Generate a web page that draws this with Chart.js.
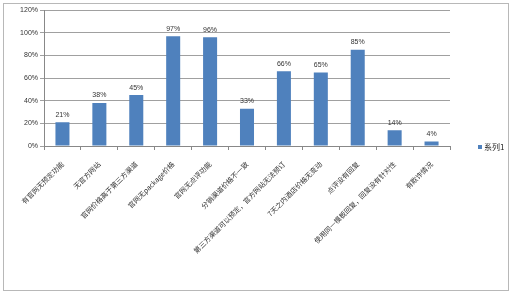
<!DOCTYPE html>
<html>
<head>
<meta charset="utf-8">
<script src="https://cdn.jsdelivr.net/npm/chart.js@4.4.1/dist/chart.umd.min.js"></script>
<style>
  body { margin: 0; background: #fff; }
  #box { position: absolute; left: 3px; top: 3px; width: 504px; height: 286px; border: 1px solid #b8b8b8; }
  canvas { position: absolute; left: 0; top: 0; }
</style>
</head>
<body>
<div id="box"><canvas id="myChart" width="504" height="286"></canvas></div>
<script>
// categorías y valores (%)
const categorias = [
  '有官网无预定功能',
  '无官方网站',
  '官网价格高于第三方渠道',
  '官网无package价格',
  '官网无点评功能',
  '分销渠道价格不一致',
  '第三方渠道可以预定，官方网站无法预订',
  '7天之内酒店价格无变动',
  '点评没有回复',
  '使用同一模板回复，回复没有针对性',
  '有欺诈情况'
];
const valores = [21, 38, 45, 97, 96, 33, 66, 65, 85, 14, 4];
const serie = '系列1';
const ticksY = [0, 20, 40, 60, 80, 100, 120];
const colorSerie = '#4F81BD';

// etiquetas encima de cada barra + leyenda a la derecha
const etiquetas = {
  id: 'etiquetas',
  afterDatasetsDraw(chart) {
    const ctx = chart.ctx;
    const meta = chart.getDatasetMeta(0);
    ctx.save();
    ctx.font = '7px "Liberation Sans", Arial, sans-serif';
    ctx.fillStyle = '#333';
    ctx.textAlign = 'center';
    ctx.textBaseline = 'bottom';
    meta.data.forEach(function(bar, i) {
      ctx.fillText(valores[i] + '%', bar.x, bar.y - 4);
    });

    // leyenda
    const area = chart.chartArea;
    const ly = chart.height / 2;
    const lx = area.right + 28;
    ctx.fillStyle = colorSerie;
    ctx.fillRect(lx, ly - 2, 4, 4);
    ctx.fillStyle = '#222';
    ctx.font = '8px "Noto Sans CJK SC", sans-serif';
    ctx.textAlign = 'left';
    ctx.textBaseline = 'middle';
    ctx.fillText(serie, lx + 6, ly);
    ctx.restore();
  }
};

const ctx = document.getElementById('myChart').getContext('2d');
new Chart(ctx, {
  type: 'bar',
  data: {
    labels: categorias,
    datasets: [{
      label: serie,
      data: valores,
      backgroundColor: colorSerie,
      borderWidth: 0,
      barPercentage: 0.76,
      categoryPercentage: 0.5
    }]
  },
  options: {
    responsive: false,
    animation: false,
    layout: { padding: { left: 0, top: 1, right: 58, bottom: 0 } },
    plugins: {
      tooltip: { enabled: false },
      legend: { display: false }
    },
    scales: {
      x: {
        afterFit(axis) { axis.height = 144; },
        grid: { offset: true, drawOnChartArea: false, tickLength: 4, color: '#888' },
        border: { color: '#888' },
        ticks: {
          minRotation: 45,
          maxRotation: 45,
          autoSkip: false,
          padding: 10,
          color: '#333',
          font: { size: 7, family: '"Noto Sans CJK SC", sans-serif' }
        }
      },
      y: {
        min: 0,
        max: 120,
        afterFit(axis) { axis.width = 40; },
        afterBuildTicks(axis) { axis.ticks = ticksY.map(v => ({ value: v })); },
        grid: { color: '#a0a0a0', tickLength: 4 },
        border: { color: '#888' },
        ticks: {
          padding: 2,
          color: '#333',
          font: { size: 7, family: '"Liberation Sans", Arial, sans-serif' },
          callback: v => v + '%'
        }
      }
    }
  },
  plugins: [etiquetas]
});
</script>
</body>
</html>
